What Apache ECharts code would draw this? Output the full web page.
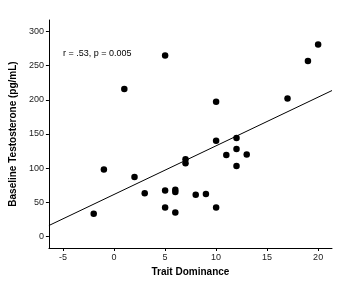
<!DOCTYPE html>
<html><head><meta charset="utf-8">
<script src="https://cdn.jsdelivr.net/npm/echarts@6/dist/echarts.min.js"></script>
<style>html,body{margin:0;padding:0;background:#fff}#c{width:345px;height:287px}</style>
</head><body><div id="c"></div>
<script>
const traitDominance = [-2,-1,1,2,3,5,5,5,6,6,6,7,7,8,9,10,10,10,11,12,12,12,13,17,19,20];
const testosterone   = [33,98,216,87,63,265,67,42,68,65,35,113,107,61,62,197,140,42,119,144,128,103,120,202,257,281];
const xTicks = [-5,0,5,10,15,20];
const yTicks = [0,50,100,150,200,250,300];
const fitIntercept = 61.3;
const fitSlope = 7.13;
const statText = 'r = .53, p = 0.005';
const xMin = -6.39, xMax = 21.36, yMin = -17.2, yMax = 317;

const points = traitDominance.map((x,i)=>[x, testosterone[i]]);
const fit = [xMin, xMax].map(x=>[x, fitIntercept + fitSlope*x]);

const chart = echarts.init(document.getElementById('c'));
const axisCommon = {
  axisLine:{show:true,onZero:false,lineStyle:{color:'#000',width:1}},
  axisTick:{show:true,length:3,lineStyle:{color:'#000'}},
  splitLine:{show:false},
  axisLabel:{color:'#222',fontFamily:'Liberation Sans',fontSize:9},
  nameTextStyle:{color:'#000',fontFamily:'Liberation Sans',fontSize:10,fontWeight:'bold'}
};
chart.setOption({
  animation:false,
  grid:{left:42,right:13,top:20,bottom:39},
  xAxis:Object.assign({},axisCommon,{type:'value',min:xMin,max:xMax,
    name:'Trait Dominance',nameLocation:'middle',nameGap:19,
    axisTick:Object.assign({},axisCommon.axisTick,{customValues:xTicks}),
    axisLabel:Object.assign({},axisCommon.axisLabel,{customValues:xTicks,margin:5})}),
  yAxis:Object.assign({},axisCommon,{type:'value',min:yMin,max:yMax,
    name:'Baseline Testosterone (pg/mL)',nameLocation:'middle',nameGap:25,
    axisTick:Object.assign({},axisCommon.axisTick,{customValues:yTicks}),
    axisLabel:Object.assign({},axisCommon.axisLabel,{customValues:yTicks,margin:5})}),
  graphic:[{type:'text',left:63,top:49,style:{text:statText,fontFamily:'Liberation Sans',fontSize:9,fill:'#000'}}],
  series:[
    {type:'line',data:fit,symbol:'none',lineStyle:{color:'#000',width:1},silent:true},
    {type:'scatter',data:points,symbol:'circle',symbolSize:6.5,itemStyle:{color:'#000',opacity:1}}
  ]
});
</script></body></html>
